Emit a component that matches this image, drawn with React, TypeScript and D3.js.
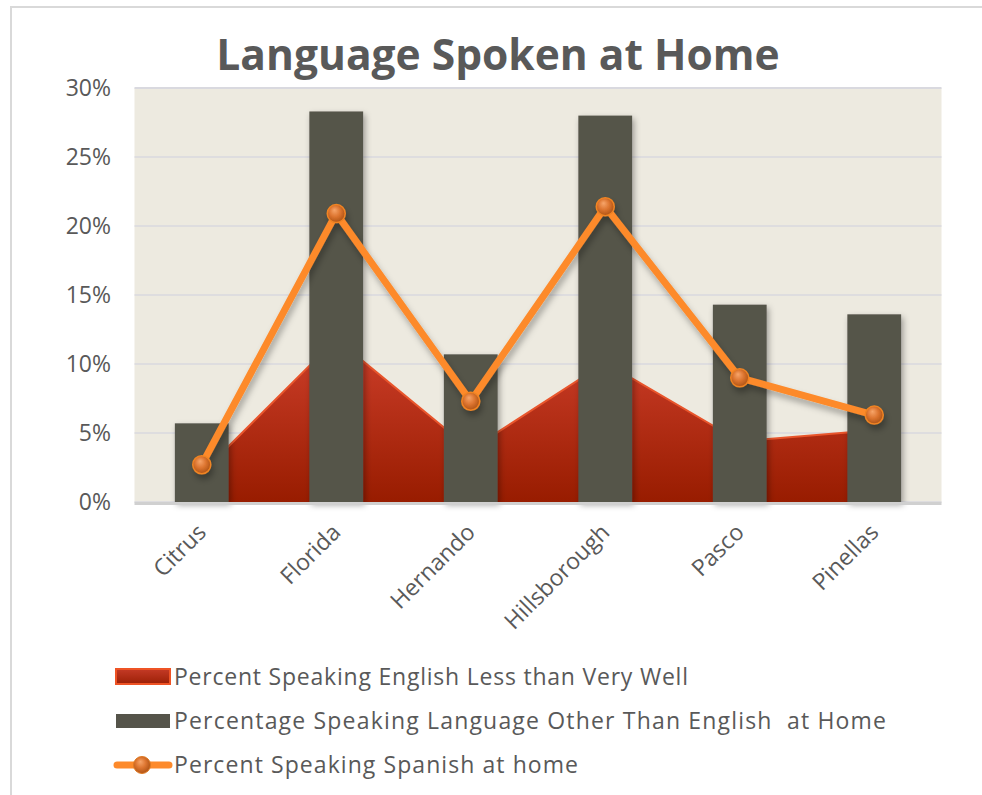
import React from "react";
import * as d3 from "d3";

const categories = ["Citrus", "Florida", "Hernando", "Hillsborough", "Pasco", "Pinellas"];
const englishLessThanVeryWell = [2.1, 11.8, 3.8, 10.1, 4.4, 5.2];
const otherThanEnglish = [5.7, 28.3, 10.7, 28.0, 14.3, 13.6];
const spanishAtHome = [2.7, 20.9, 7.3, 21.4, 9.0, 6.3];
const yTicks = [0, 5, 10, 15, 20, 25, 30];
const seriesNames = [
  "Percent Speaking English Less than Very Well",
  "Percentage Speaking Language Other Than English  at Home",
  "Percent Speaking Spanish at home",
];
const title = "Language Spoken at Home";

const W = 982;
const H = 795;
const plot = { left: 134.5, right: 941.5, top: 88, bottom: 502 };
const FONT = "'Open Sans', 'DejaVu Sans', sans-serif";
const TXT = "#595959";
const legendWidths = [514, 712, 404];

export default function App() {
  const x = d3
    .scaleBand<string>()
    .domain(categories)
    .range([plot.left, plot.right])
    .paddingInner(0.6)
    .paddingOuter(0.3);
  const y = d3.scaleLinear().domain([0, 30]).range([plot.bottom, plot.top]);
  const cx = (c: string) => (x(c) as number) + x.bandwidth() / 2;

  const areaGen = d3
    .area<number>()
    .x((_, i) => cx(categories[i]))
    .y0(y(0))
    .y1((d) => y(d));
  const areaTop = d3
    .line<number>()
    .x((_, i) => cx(categories[i]))
    .y((d) => y(d));
  const lineGen = d3
    .line<number>()
    .x((_, i) => cx(categories[i]))
    .y((d) => y(d));

  const legendY = [677, 721, 765];

  return (
    <svg
      width={W}
      height={H}
      style={{ position: "absolute", left: 0, top: 0, background: "#fff" }}
      fontFamily={FONT}
    >
      <defs>
        <linearGradient id="areaGrad" x1="0" y1={y(12)} x2="0" y2={y(0)} gradientUnits="userSpaceOnUse">
          <stop offset="0" stopColor="#cf402c" />
          <stop offset="1" stopColor="#981c00" />
        </linearGradient>
        <linearGradient id="legRed" x1="0" y1="0" x2="0" y2="1">
          <stop offset="0" stopColor="#c43a26" />
          <stop offset="1" stopColor="#9c2006" />
        </linearGradient>
        <radialGradient id="ball" cx="0.45" cy="0.45" r="0.6" fx="0.4" fy="0.3">
          <stop offset="0" stopColor="#f7a56a" />
          <stop offset="0.5" stopColor="#dd7530" />
          <stop offset="1" stopColor="#a94f12" />
        </radialGradient>
        <filter id="shadow" x="-30%" y="-10%" width="160%" height="130%">
          <feDropShadow dx="2" dy="3" stdDeviation="3" floodColor="#000" floodOpacity="0.35" />
        </filter>
        <filter id="shadowLine" x="-10%" y="-10%" width="120%" height="130%">
          <feDropShadow dx="2" dy="5" stdDeviation="3" floodColor="#000" floodOpacity="0.3" />
        </filter>
      </defs>

      {/* chart border */}
      <rect x={11} y={7} width={1000} height={1000} fill="#fff" stroke="#d9d9d9" strokeWidth={2} />

      {/* title */}
      <text x={498} y={70} textAnchor="middle" fontSize={42.5} fontWeight={700} fill={TXT}>
        {title}
      </text>

      {/* plot background */}
      <rect
        x={plot.left}
        y={plot.top}
        width={plot.right - plot.left}
        height={plot.bottom - plot.top}
        fill="#edeae0"
      />
      {yTicks.map((t) => (
        <line
          key={t}
          x1={plot.left}
          x2={plot.right}
          y1={y(t)}
          y2={y(t)}
          stroke="#d9d9df"
          strokeWidth={t === 30 ? 2 : 1.5}
        />
      ))}

      {/* y labels */}
      {yTicks.map((t) => (
        <text key={t} x={111} y={y(t)} dy="0.36em" textAnchor="end" fontSize={23} fill={TXT}>
          {t}%
        </text>
      ))}

      {/* area */}
      <path d={areaGen(englishLessThanVeryWell) || ""} fill="url(#areaGrad)" />
      <path d={areaTop(englishLessThanVeryWell) || ""} fill="none" stroke="#e8552c" strokeWidth={2} />

      {/* bars */}
      <g filter="url(#shadow)">
        {otherThanEnglish.map((v, i) => (
          <rect
            key={categories[i]}
            x={x(categories[i])}
            y={y(v)}
            width={x.bandwidth()}
            height={y(0) - y(v)}
            fill="#55544a"
          />
        ))}
      </g>

      {/* axis line */}
      <line x1={plot.left} x2={plot.right} y1={plot.bottom + 1.5} y2={plot.bottom + 1.5} stroke="#d0d0d0" strokeWidth={3} />

      {/* line */}
      <g filter="url(#shadowLine)">
        <path
          d={lineGen(spanishAtHome) || ""}
          fill="none"
          stroke="#fd8a2b"
          strokeWidth={7}
          strokeLinejoin="round"
        />
        {spanishAtHome.map((v, i) => (
          <circle
            key={categories[i]}
            cx={cx(categories[i])}
            cy={y(v)}
            r={9}
            fill="url(#ball)"
            stroke="#f08424"
            strokeWidth={1.5}
          />
        ))}
      </g>

      {/* x labels */}
      {categories.map((c) => (
        <text
          key={c}
          transform={`translate(${cx(c)},${528}) rotate(-45)`}
          textAnchor="end"
          dy="0.35em"
          fontSize={23}
          fill={TXT}
        >
          {c}
        </text>
      ))}

      {/* legend */}
      <rect x={116} y={669} width={54} height={15} fill="url(#legRed)" stroke="#ee5325" strokeWidth={2} />
      <rect x={116} y={714} width={54} height={14} fill="#55544a" />
      <line x1={117} x2={169} y1={765} y2={765} stroke="#fd8a2b" strokeWidth={7} strokeLinecap="round" />
      <circle cx={142} cy={765} r={8.5} fill="url(#ball)" stroke="#e07a22" strokeWidth={1} />
      {seriesNames.map((s, i) => (
        <text
          key={s}
          x={174}
          y={legendY[i]}
          dy="0.36em"
          fontSize={23}
          fill={TXT}
          textLength={legendWidths[i]}
          lengthAdjust="spacing"
          style={{ whiteSpace: "pre" }}
        >
          {s}
        </text>
      ))}
    </svg>
  );
}
